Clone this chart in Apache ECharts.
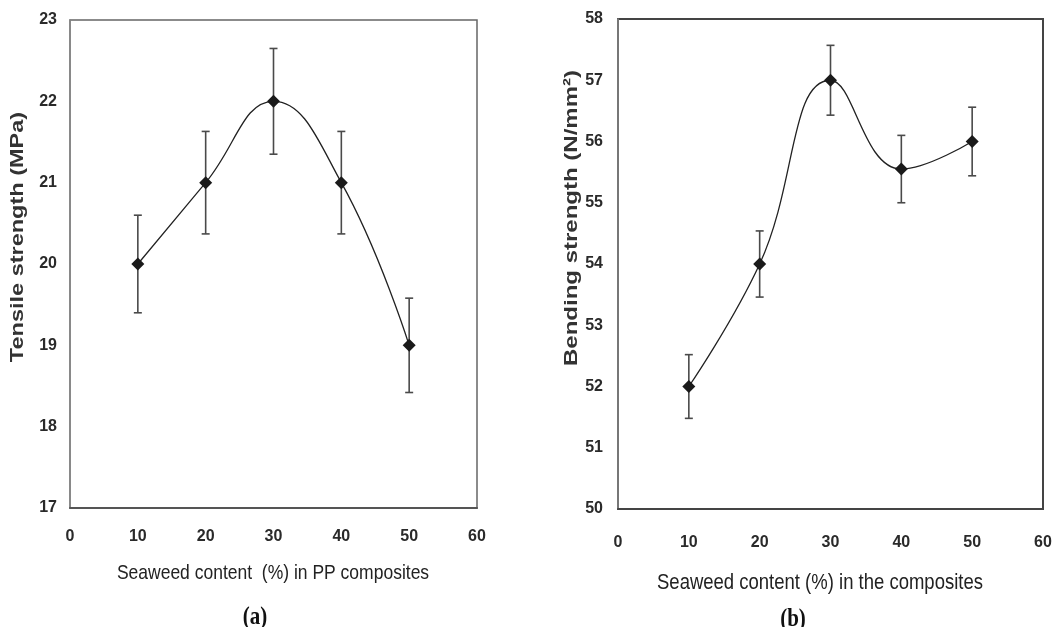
<!DOCTYPE html>
<html lang="en">
<head>
    <meta charset="UTF-8">
    <title>Seaweed composites</title>
    <script src="https://cdn.jsdelivr.net/npm/echarts@6/dist/echarts.min.js"></script>
    <style>
        body { margin: 0; background: #fff; }
    </style>
</head>
<body>
<div id="main" style="width: 1055px;height:627px;"></div>

<script type="text/javascript">
    // seaweed content (%)
    var content = [10, 20, 30, 40, 50];
    // (a) tensile strength, MPa
    var tensile = [20, 21, 22, 21, 19];
    var tensileErr = [0.6, 0.63, 0.65, 0.63, 0.58];
    // (b) bending strength, N/mm2
    var bending = [52, 54, 57, 55.55, 56];
    var bendingErr = [0.52, 0.54, 0.57, 0.55, 0.56];

    var labelFont = {fontFamily: 'Liberation Sans', fontWeight: 'bold', fontSize: 16, color: '#2a2a2a'};

    function pairs(xs, ys) {
        var out = [];
        for (var i = 0; i < xs.length; i++) out.push([xs[i], ys[i]]);
        return out;
    }
    function errRows(xs, ys, es) {
        var out = [];
        for (var i = 0; i < xs.length; i++) out.push([xs[i], ys[i] - es[i], ys[i] + es[i]]);
        return out;
    }

    // error bar: vertical line plus two short caps
    function errorBar(params, api) {
        var lo = api.coord([api.value(0), api.value(1)]);
        var hi = api.coord([api.value(0), api.value(2)]);
        var w = 4;
        var st = {stroke: '#4a4a4a', lineWidth: 1.6};
        return {
            type: 'group',
            children: [
                {type: 'line', shape: {x1: lo[0], y1: lo[1], x2: hi[0], y2: hi[1]}, style: st},
                {type: 'line', shape: {x1: lo[0] - w, y1: lo[1], x2: lo[0] + w, y2: lo[1]}, style: st},
                {type: 'line', shape: {x1: hi[0] - w, y1: hi[1], x2: hi[0] + w, y2: hi[1]}, style: st}
            ]
        };
    }

    var myChart = echarts.init(document.getElementById('main'));
    var option = {
        backgroundColor: '#fff',
        animation: false,
        grid: [
            {left: 70, top: 20, width: 407, height: 488, show: true, borderColor: '#666', borderWidth: 1.5},
            {left: 618, top: 19, width: 425, height: 490, show: true, borderColor: '#444', borderWidth: 2}
        ],
        xAxis: [
            {
                gridIndex: 0, type: 'value', min: 0, max: 60, interval: 10,
                axisLine: {show: true, lineStyle: {color: '#555', width: 2}},
                axisTick: {show: false}, splitLine: {show: false},
                axisLabel: Object.assign({margin: 21}, labelFont)
            },
            {
                gridIndex: 1, type: 'value', min: 0, max: 60, interval: 10,
                axisLine: {show: true, lineStyle: {color: '#444', width: 2}},
                axisTick: {show: false}, splitLine: {show: false},
                axisLabel: Object.assign({margin: 26}, labelFont)
            }
        ],
        yAxis: [
            {
                gridIndex: 0, type: 'value', min: 17, max: 23, interval: 1,
                axisLine: {show: true, lineStyle: {color: '#888', width: 1.5}},
                axisTick: {show: false}, splitLine: {show: false},
                axisLabel: Object.assign({margin: 13}, labelFont)
            },
            {
                gridIndex: 1, type: 'value', min: 50, max: 58, interval: 1,
                axisLine: {show: true, lineStyle: {color: '#888', width: 1.5}},
                axisTick: {show: false}, splitLine: {show: false},
                axisLabel: Object.assign({margin: 15}, labelFont)
            }
        ],
        graphic: [
            {type: 'text', x: 18, y: 237, rotation: Math.PI / 2, scaleY: 0.8,
                style: {text: 'Tensile strength (MPa)', font: 'bold 23.5px "Liberation Sans"', fill: '#333', align: 'center', verticalAlign: 'middle'}},
            {type: 'text', x: 572, y: 218, rotation: Math.PI / 2, scaleY: 0.8,
                style: {text: 'Bending strength (N/mm²)', font: 'bold 24px "Liberation Sans"', fill: '#333', align: 'center', verticalAlign: 'middle'}},
            {type: 'text', x: 273, y: 573, scaleY: 1.15,
                style: {text: 'Seaweed content  (%) in PP composites', font: '17.5px "Liberation Sans"', fill: '#222', align: 'center', verticalAlign: 'middle'}},
            {type: 'text', x: 820, y: 583, scaleY: 1.15,
                style: {text: 'Seaweed content (%) in the composites', font: '18.5px "Liberation Sans"', fill: '#222', align: 'center', verticalAlign: 'middle'}},
            {type: 'text', x: 255, y: 618, scaleY: 1.15,
                style: {text: '(a)', font: 'bold 21px "Liberation Serif"', fill: '#111', align: 'center', verticalAlign: 'middle'}},
            {type: 'text', x: 793, y: 620, scaleY: 1.15,
                style: {text: '(b)', font: 'bold 21px "Liberation Serif"', fill: '#111', align: 'center', verticalAlign: 'middle'}}
        ],
        series: [
            {
                type: 'custom', xAxisIndex: 0, yAxisIndex: 0,
                renderItem: errorBar, data: errRows(content, tensile, tensileErr), z: 1
            },
            {
                type: 'line', xAxisIndex: 0, yAxisIndex: 0, smooth: 0.45,
                data: pairs(content, tensile),
                symbol: 'diamond', symbolSize: 13,
                lineStyle: {color: '#222', width: 1.3},
                itemStyle: {color: '#1a1a1a'}, z: 3
            },
            {
                type: 'custom', xAxisIndex: 1, yAxisIndex: 1,
                renderItem: errorBar, data: errRows(content, bending, bendingErr), z: 1
            },
            {
                type: 'line', xAxisIndex: 1, yAxisIndex: 1, smooth: 0.45,
                data: pairs(content, bending),
                symbol: 'diamond', symbolSize: 13,
                lineStyle: {color: '#222', width: 1.3},
                itemStyle: {color: '#1a1a1a'}, z: 3
            }
        ]
    };
    myChart.setOption(option);
</script>
</body>
</html>
